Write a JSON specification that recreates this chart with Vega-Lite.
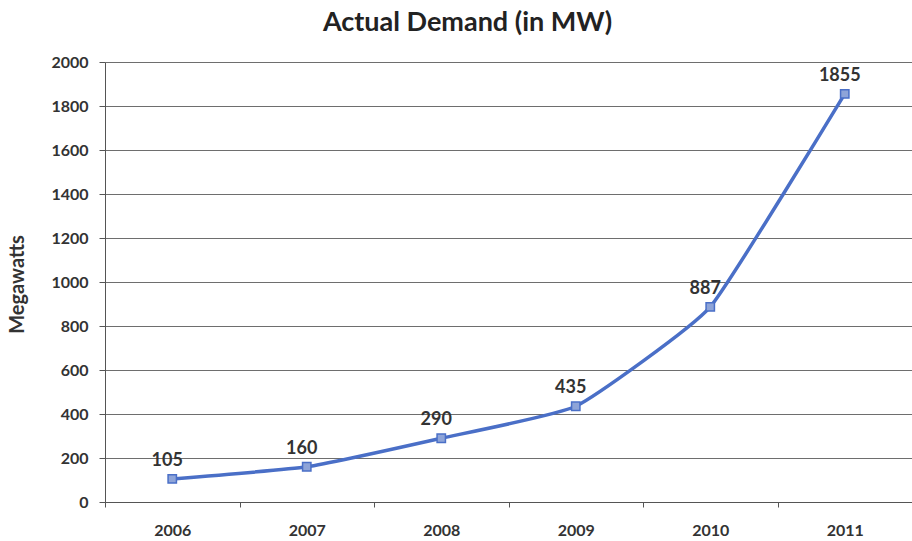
{
  "$schema": "https://vega.github.io/schema/vega-lite/v6.json",
  "width": 807,
  "height": 440,
  "autosize": {"type": "none"},
  "padding": {"left": 105, "top": 62, "right": 0, "bottom": 39},
  "background": "white",
  "title": {
    "text": "Actual Demand (in MW)",
    "font": "Lato",
    "fontSize": 27,
    "fontWeight": "bold",
    "color": "#222222",
    "anchor": "middle",
    "dx": -41,
    "offset": 17
  },
  "data": {
    "values": [
      {"year": "2006", "mw": 105},
      {"year": "2007", "mw": 160},
      {"year": "2008", "mw": 290},
      {"year": "2009", "mw": 435},
      {"year": "2010", "mw": 887},
      {"year": "2011", "mw": 1855}
    ]
  },
  "config": {
    "view": {"stroke": null},
    "axis": {"labelFont": "Lato", "titleFont": "Lato"}
  },
  "encoding": {
    "x": {
      "field": "year",
      "type": "ordinal",
      "bandPosition": 0.5,
      "scale": {"type": "band", "paddingInner": 0, "paddingOuter": 0},
      "axis": {
        "title": null,
        "labelAngle": 0,
        "labelFontSize": 16,
        "labelFontWeight": "bold",
        "labelColor": "#333333",
        "labelPadding": 15,
        "tickBand": "extent",
        "tickSize": 5,
        "tickColor": "#555555",
        "domainColor": "#555555",
        "grid": false
      }
    },
    "y": {
      "field": "mw",
      "type": "quantitative",
      "scale": {"domain": [0, 2000], "nice": false},
      "axis": {
        "title": "Megawatts",
        "titleFontSize": 20,
        "titleFontWeight": "bold",
        "titleColor": "#333333",
        "titleX": -78,
        "titleY": 222,
        "format": "d",
        "values": [0, 200, 400, 600, 800, 1000, 1200, 1400, 1600, 1800, 2000],
        "labelFontSize": 16,
        "labelFontWeight": "bold",
        "labelColor": "#333333",
        "labelPadding": 11,
        "tickSize": 6,
        "tickColor": "#555555",
        "domainColor": "#555555",
        "gridColor": "#6e6e6e",
        "gridWidth": 1
      }
    }
  },
  "layer": [
    {
      "mark": {"type": "line", "interpolate": "cardinal", "tension": 0.6, "color": "#4a6fc7", "strokeWidth": 3.5}
    },
    {
      "mark": {"type": "square", "size": 70, "filled": true, "fill": "#8ea4d8", "stroke": "#4a6fc7", "strokeWidth": 1.5, "opacity": 1}
    },
    {
      "mark": {"type": "text", "dy": -18, "dx": -5, "font": "Lato", "fontSize": 18, "fontWeight": "bold", "color": "#333333"},
      "encoding": {"text": {"field": "mw", "type": "quantitative"}}
    }
  ]
}
